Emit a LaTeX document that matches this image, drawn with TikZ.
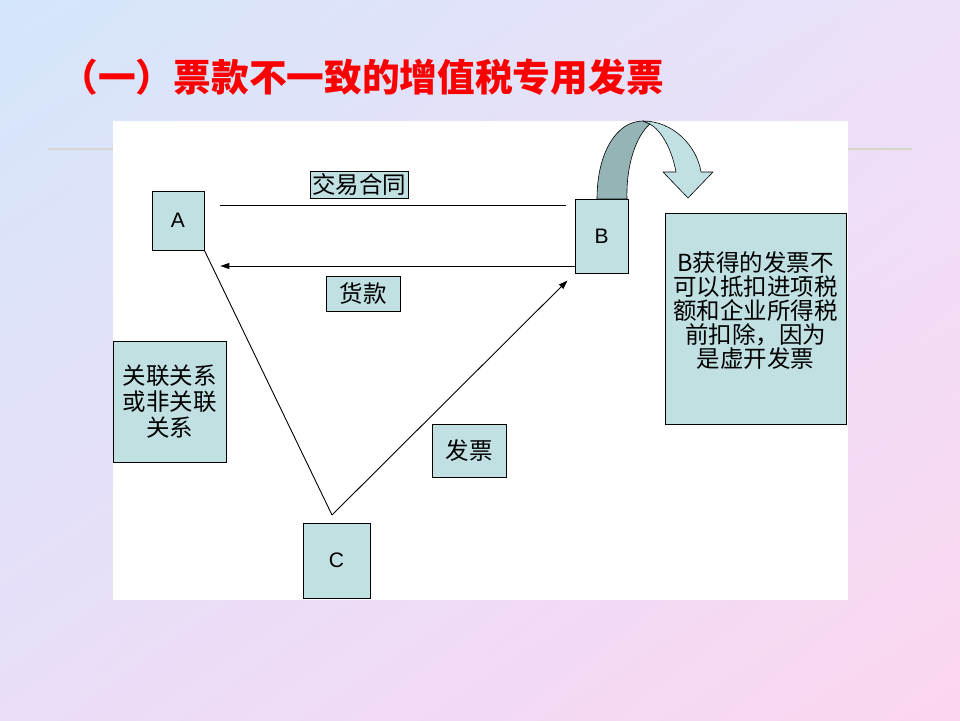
\documentclass[tikz,border=0pt]{standalone}
\usepackage{fontspec}
\setmainfont{Liberation Sans}
\newfontfamily\cjk{Noto Sans CJK SC}
\usepackage{tikz}
\usetikzlibrary{arrows.meta, positioning, calc, shadings}
\definecolor{boxfill}{RGB}{192,224,226}
\definecolor{ribbondark}{RGB}{148,180,182}
\definecolor{titlered}{RGB}{250,0,0}
\definecolor{rulegray}{RGB}{214,214,202}
\definecolor{bgblue}{RGB}{212,230,252}
\definecolor{bglav}{RGB}{236,224,248}
\definecolor{bglavlow}{RGB}{234,222,248}
\definecolor{bgpink}{RGB}{252,214,240}
\tikzset{
  box/.style={rectangle, draw=black, fill=boxfill, line width=0.8pt,
    inner sep=0pt, align=center, font=\fontsize{23.5}{26}\selectfont\cjk},
  letterbox/.style={box, font=\fontsize{21}{24}\selectfont},
  line/.style={line width=0.9pt, color=black},
  arrow/.style={-{Triangle[length=9pt,width=6pt]}, line width=0.9pt, color=black},
  ribbon/.style={draw=black, line width=0.6pt, line join=round}
}

\begin{document}
\begin{tikzpicture}[x=1pt, y=-1pt]
  % page background
  \shade[upper left=bgblue, upper right=bglav, lower left=bglavlow, lower right=bgpink]
    (0,0) rectangle (960,720);
  \useasboundingbox (0,0) rectangle (960,720);
  \draw[rulegray, line width=2.5pt] (48,149) -- (912,149);
  \fill[white] (113,121) rectangle (848,600);

  \node[anchor=west, text=titlered, font=\fontsize{37.7}{40}\selectfont\cjk\bfseries] (title) at (57,77)
    {（一）票款不一致的增值税专用发票};

  % parties
  \node[letterbox, minimum width=52pt, minimum height=59pt] (A) at (178,220.5) {A};
  \node[letterbox, minimum width=53pt, minimum height=74pt] (B) at (601.5,236) {B};
  \node[letterbox, minimum width=67pt, minimum height=75pt] (C) at (336.5,560.5) {C};

  % labels
  \node[box, minimum width=98pt, minimum height=27pt] (contract) at (359,184.5) {交易合同};
  \node[box, minimum width=74pt, minimum height=35pt] (payment) at (363,293.5) {货款};
  \node[box, minimum width=74pt, minimum height=53pt] (invoice) at (469,450.5) {发票};
  \node[box, minimum width=113pt, minimum height=121pt] (relation) at (169.5,401.5)
    {关联关系\\或非关联\\关系};
  \node[box, minimum width=181pt, minimum height=211pt] (note) at (755.5,318.5) {};
  \node[align=center, inner sep=0pt, font=\fontsize{23.5}{24}\selectfont\cjk] (notetext)
    at ($(note.center)+(0,-7.5)$)
    {B获得的发票不\\可以抵扣进项税\\额和企业所得税\\前扣除，因为\\是虚开发票};

  % curved arrow on top of B
  \fill[ribbondark, ribbon] (597,199) .. controls (597,152) and (617,121) .. (643,121)
    -- (650,124) .. controls (636,136) and (626,165) .. (627,199) -- cycle;
  \fill[boxfill, ribbon] (643,121) .. controls (673,121) and (697,146) .. (701,172)
    -- (713,172) -- (688,198) -- (663,172) -- (676,172)
    .. controls (672,150) and (662,131) .. (650,124) -- cycle;

  % flows
  \coordinate (ktY) at (0,205);
  \coordinate (hkY) at (0,266);
  \coordinate (v) at (332,515);
  \draw[line, shorten <=16pt, shorten >=9pt] (A.east |- ktY) -- (B.west |- ktY);
  \draw[arrow, shorten >=16pt] (B.west |- hkY) -- (A.east |- hkY);
  \draw[line] (A.south east) -- (v);
  \draw[arrow, shorten >=10pt] (v) -- (B.south west);
\end{tikzpicture}
\end{document}
